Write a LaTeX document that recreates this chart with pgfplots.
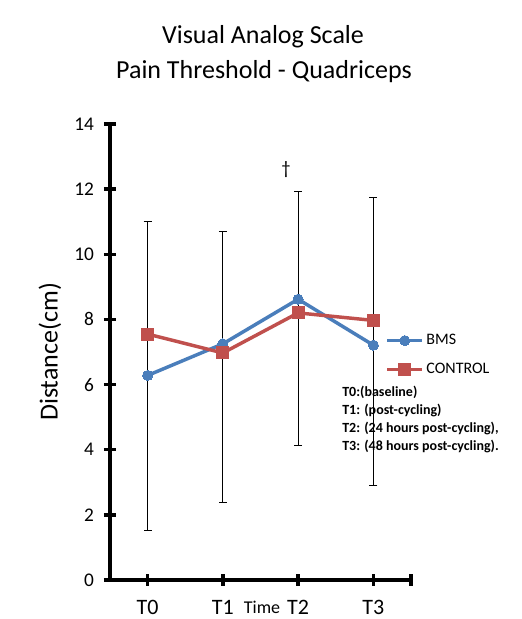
\documentclass[border=0pt]{standalone}
\usepackage{pgfplots}
\pgfplotsset{compat=1.18}
\usepackage{fontspec}
\setmainfont{Carlito}
\definecolor{bmsblue}{RGB}{74,126,187}
\definecolor{ctlred}{RGB}{192,80,77}
\begin{document}
\begin{tikzpicture}
\path[use as bounding box, fill=white] (0,0) rectangle (391.5pt,464.25pt);
\begin{axis}[
  at={(82.5pt,29.25pt)}, anchor=south west,
  scale only axis, width=225.75pt, height=342pt,
  xmin=-0.5, xmax=3.5, ymin=0, ymax=14,
  axis lines=left,
  x axis line style={-, line width=2.6pt, black},
  y axis line style={-, line width=2.6pt, black},
  xtick={0,1,2,3}, xticklabels={T0,T1,T2,T3},
  extra x ticks={3.5}, extra x tick labels={},
  ytick={0,2,4,6,8,10,12,14},
  tick align=center, major tick length=9pt,
  xtick style={line width=2.6pt, black},
  ytick style={line width=2.6pt, black},
  extra x tick style={xtick style={line width=2.6pt, black}},
  x tick label style={font=\fontsize{16.5}{18}\selectfont, inner sep=0pt, yshift=-10.5pt},
  y tick label style={font=\fontsize{14.5}{16}\selectfont, xshift=-4pt},
  /pgf/number format/assume math mode=true,
  clip=false,
  legend style={at={(rel axis cs:0.915,0.545)}, anchor=north west, draw=none, fill=none,
    font=\fontsize{12}{14}\selectfont, row sep=8.5pt, inner sep=0pt},
  legend cell align=left,
  legend image code/.code={\draw[mark repeat=2,mark phase=2,#1] plot coordinates {(0pt,0pt) (13pt,0pt) (26pt,0pt)};},
]
\addplot[draw=none, mark=none, forget plot,
  error bars/.cd, y dir=both, y explicit,
  error bar style={black, line width=0.9pt},
  error mark options={rotate=90, mark size=3pt, line width=0.9pt, black}]
  coordinates {
  (0,6.27) +- (0,4.73) -= (0,4.75)
  (1,6.55) += (0,4.15) -= (0,4.17)
  (2,8.03) += (0,3.90) -= (0,3.90)
  (3,7.32) += (0,4.43) -= (0,4.43)
  };
\addplot[color=bmsblue, line width=2.6pt, mark=*, mark size=3.8pt, mark options={solid, fill=bmsblue, line width=0pt}]
  coordinates {(0,6.28) (1,7.25) (2,8.62) (3,7.21)};
\addlegendentry{BMS}
\addplot[color=ctlred, line width=2.6pt, mark=square*, mark size=4.5pt, mark options={solid, fill=ctlred, line width=0pt}]
  coordinates {(0,7.55) (1,6.97) (2,8.2) (3,7.97)};
\addlegendentry{CONTROL}
\end{axis}
\node[font=\fontsize{19.5}{22}\selectfont] at (197.25pt,436.5pt) {Visual Analog Scale};
\node[font=\fontsize{19.5}{22}\selectfont] at (198pt,410.25pt) {Pain Threshold - Quadriceps};
\node[font=\fontsize{19.5}{22}\selectfont, rotate=90] at (37.5pt,200.25pt) {Distance(cm)};
\node[font=\fontsize{13.5}{15}\selectfont] at (196.5pt,8.5pt) {Time};
\node[font=\fontsize{14}{16}\selectfont] at (214.5pt,337pt) {†};
\node[font=\fontsize{10.5}{13.3}\selectfont\bfseries, align=left, anchor=north west, inner sep=0pt] at (256.5pt,174.5pt)
  {T0:(baseline)\\T1: (post-cycling)\\T2: (24 hours post-cycling),\\T3: (48 hours post-cycling).};
\end{tikzpicture}
\end{document}
